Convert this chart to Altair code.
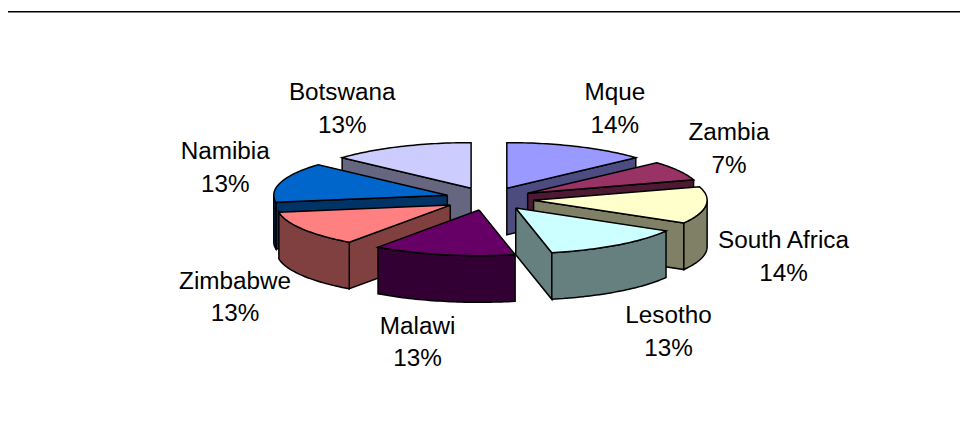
import numpy as np
import pandas as pd
import altair as alt

# Reading of the picture ------------------------------------------------
names = ["Mque", "Zambia", "South Africa", "Lesotho", "Malawi", "Zimbabwe", "Namibia", "Botswana"]
percents = ["14%", "7%", "14%", "13%", "13%", "13%", "13%", "13%"]
# angular span of each slice on the drawn ellipse (degrees, clockwise from 12 o'clock)
spans = [48, 25, 47, 48, 47.6, 45.4, 51, 48]
top_colors = ["#9999FF", "#993366", "#FFFFCC", "#CCFFFF", "#660066", "#FF8080", "#0066CC", "#CCCCFF"]
side_colors = ["#4C4C80", "#4D1933", "#808066", "#668080", "#330033", "#804040", "#003366", "#666680"]
# apex of each exploded slice
apex_x = [511, 532, 538, 520, 483, 454, 451, 475]
apex_y = [188, 193, 200, 208, 210, 205, 195, 188]
paint_order = ["Botswana", "Mque", "Namibia", "Zambia", "Zimbabwe", "South Africa", "Malawi", "Lesotho"]
label_x = [620, 735, 790, 674, 421, 237, 227, 345]
name_y = [92, 132, 241, 317, 328, 283, 152, 92]
pct_y = [125, 166, 275, 350, 360, 315, 185, 125]

RX, RY, DEPTH = 175.0, 46.0, 47.0
W, H = 960, 418
OX, OY = 8, 8  # page margin


def pt(ax, ay, th):
    t = np.radians(th)
    return (float(ax + RX * np.sin(t) - OX), float(ay - RY * np.cos(t) - OY))


def drop(p):
    return (p[0], p[1] + DEPTH)


rows = []
poly_id = [0]


def add(ring, fill):
    poly_id[0] += 1
    for k, (x, y) in enumerate(list(ring) + [ring[0]]):
        rows.append({"poly": poly_id[0], "k": k, "x": x, "y": y, "fill": fill})


ends = np.cumsum(spans)
starts = ends - np.array(spans)
for nm in paint_order:
    i = names.index(nm)
    ax, ay, a0, a1 = apex_x[i], apex_y[i], float(starts[i]), float(ends[i])
    apex = (ax - OX, ay - OY)
    arc = [pt(ax, ay, t) for t in np.linspace(a0, a1, 41)]
    # radial walls that face the viewer
    if 180 <= a0 < 360:
        add([apex, arc[0], drop(arc[0]), drop(apex)], side_colors[i])
    if 0 < a1 < 180:
        add([apex, arc[-1], drop(arc[-1]), drop(apex)], side_colors[i])
    # outer wall (front half of the rim only)
    lo, hi = max(a0, 90.0), min(a1, 270.0)
    if hi > lo:
        rim = [pt(ax, ay, t) for t in np.linspace(lo, hi, 41)]
        add(rim + [drop(p) for p in rim[::-1]], side_colors[i])
    # top face
    add([apex] + arc, top_colors[i])

xs = alt.Scale(domain=[0, W], nice=False, zero=False)
ys = alt.Scale(domain=[H, 0], nice=False, zero=False)
X = alt.X("x:Q", scale=xs, axis=None)
Y = alt.Y("y:Q", scale=ys, axis=None)

pie = (
    alt.Chart(pd.DataFrame(rows))
    .mark_line(stroke="black", strokeWidth=1.5, strokeJoin="miter", clip=False)
    .encode(
        x=X,
        y=Y,
        order=alt.Order("k:Q"),
        detail="poly:N",
        fill=alt.Fill("fill:N", scale=None),
    )
)

frame_x = [-2, -2, 960]
frame_y = [418, 2, 2]
border = (
    alt.Chart(pd.DataFrame({"x": frame_x, "y": frame_y, "k": [0, 1, 2]}))
    .mark_line(stroke="black", strokeWidth=1.4, clip=False)
    .encode(x=X, y=Y, order=alt.Order("k:Q"))
)

label_rows = []
for i, n in enumerate(names):
    label_rows.append({"t": n, "x": label_x[i] - OX, "y": name_y[i] - OY})
    label_rows.append({"t": percents[i], "x": label_x[i] - OX, "y": pct_y[i] - OY})
labels = (
    alt.Chart(pd.DataFrame(label_rows))
    .mark_text(font="Liberation Sans", fontSize=24.5, color="black", align="center", baseline="middle", clip=False)
    .encode(x=X, y=Y, text="t:N")
)

chart = (
    alt.layer(border, pie, labels)
    .properties(
        width=W,
        height=H,
        padding=0,
        autosize=alt.AutoSizeParams(type="none"),
        background="white",
        usermeta={"embedOptions": {"defaultStyle": "svg{overflow:visible !important} html,body{overflow:hidden}"}},
    )
    .configure_view(stroke=None)
)

chart.save("out.html", embed_options={"renderer": "svg", "actions": False})
